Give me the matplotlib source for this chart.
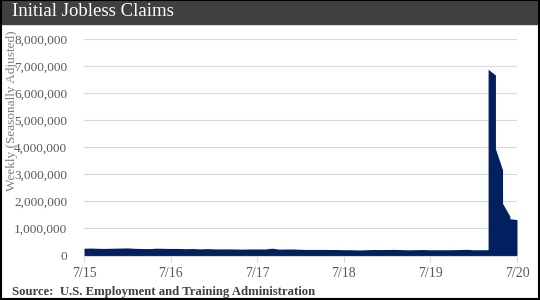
import pandas as pd
import matplotlib.pyplot as plt
from matplotlib.ticker import FuncFormatter
from matplotlib.patches import Rectangle

# monthly level of initial claims (thousands), Jul 2015 - Feb 2020
base_claims = [
    270, 275, 265, 262, 270, 275,                               # 2015 Jul-Dec
    280, 265, 260, 255, 270, 265, 260, 262, 252, 258, 245, 255,  # 2016
    245, 242, 245, 240, 235, 243, 243, 240, 270, 235, 240, 240,  # 2017
    230, 222, 225, 225, 222, 220, 215, 212, 205, 212, 222, 220,  # 2018
    222, 225, 218, 210, 215, 220, 212, 212, 212, 215, 220, 228,  # 2019
    212, 212,                                                   # 2020 Jan-Feb
]
# weekly readings in 2020, all plotted at their month (thousands)
mar_2020 = [215, 280, 3300, 6890]
apr_2020 = [6680, 5200, 4400, 3950]
may_2020 = [3170, 2700, 2450, 2120, 1930]
jun_2020 = [1450, 1420, 1390, 1360]
jul_2020 = [1330, 1320]

tick_labels = ['7/15', '7/16', '7/17', '7/18', '7/19', '7/20']

base_months = pd.date_range('2015-07-01', '2020-02-01', freq='MS')
x = list(base_months)
y = list(base_claims)
for m, vals in zip(['2020-03-01', '2020-04-01', '2020-05-01', '2020-06-01', '2020-07-01'],
                   [mar_2020, apr_2020, may_2020, jun_2020, jul_2020]):
    for v in vals:
        x.append(pd.Timestamp(m))
        y.append(v)
y = [v * 1000 for v in y]

serif = ['Liberation Serif', 'DejaVu Serif']
grey = '#595959'

fig = plt.figure(figsize=(5.4, 3.0), dpi=100)
ax = fig.add_axes([84 / 540, 1 - 255.5 / 300, (517 - 84) / 540, (255.5 - 39.3) / 300])

ax.fill_between(x, y, 0, color='#002060', linewidth=0)
ax.set_ylim(0, 8000000)
ax.set_xlim(pd.Timestamp('2015-07-01'), pd.Timestamp('2020-07-01'))
ax.set_yticks(range(0, 8000001, 1000000))
ax.yaxis.set_major_formatter(FuncFormatter(lambda v, p: f'{int(v):,}'))
ticks = pd.date_range('2015-07-01', '2020-07-01', freq='12MS')
ax.set_xticks(ticks)
ax.set_xticklabels(tick_labels)
ax.grid(axis='y', color='#d9d9d9', linewidth=0.8)
ax.set_axisbelow(True)
for s in ['top', 'right', 'left']:
    ax.spines[s].set_visible(False)
ax.spines['bottom'].set_color('#d9d9d9')
ax.tick_params(axis='y', length=0, pad=12, labelsize=9.5, labelcolor=grey)
ax.tick_params(axis='x', length=4, color='#d9d9d9', pad=4, labelsize=10, labelcolor=grey)
for lab in ax.get_xticklabels() + ax.get_yticklabels():
    lab.set_family(serif)
ax.set_ylabel('Weekly (Seasonally Adjusted)', family=serif, fontsize=9.5, color='#7f7f7f')
ax.yaxis.set_label_coords(-0.152, 0.67)

# title bar and frame
fig.patches.append(Rectangle((0, 1 - 24 / 300), 1, 24 / 300, transform=fig.transFigure,
                             color='#404040', zorder=0))
fig.patches.append(Rectangle((0.001, 0.002), 0.997, 0.997, transform=fig.transFigure,
                             fill=False, edgecolor='black', linewidth=1.5, zorder=5))
fig.text(12 / 540, 1 - 12 / 300, 'Initial Jobless Claims', family=serif, fontsize=13.5,
         color='white', va='center', ha='left')
fig.text(12 / 540, 1 - 292 / 300, 'Source:  U.S. Employment and Training Administration',
         family=serif, fontsize=9.2, fontweight='bold', color='#404040', va='center', ha='left')

fig.savefig('out.png', dpi=100)
